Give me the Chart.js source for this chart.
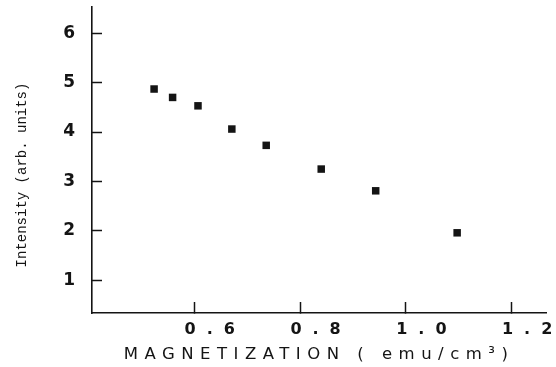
<!DOCTYPE html>
<html>
<head>
<meta charset="utf-8">
<script src="https://cdn.jsdelivr.net/npm/chart.js@4/dist/chart.umd.min.js"></script>
<style>html,body{margin:0;padding:0;background:#fff;}canvas{display:block;}</style>
</head>
<body>
<canvas id="c" width="556" height="367"></canvas>
<script>
// ---- data ----
const magnetization = [0.524, 0.559, 0.607, 0.671, 0.736, 0.840, 0.943, 1.097];
const intensity     = [4.87, 4.70, 4.53, 4.06, 3.73, 3.25, 2.81, 1.96];
const xTickValues   = [0.6, 0.8, 1.0, 1.2];
const yTickValues   = [1, 2, 3, 4, 5, 6];
const xAxisTitle    = 'MAGNETIZATION ( emu/cm³)';
const yAxisTitle    = 'Intensity (arb. units)';

const points = magnetization.map((m, i) => ({x: m, y: intensity[i]}));

function wrapDraw(scale, method, spacing, dy) {
  const key = '_wrapped_' + method;
  if (scale[key]) return;
  const orig = scale[method];
  scale[method] = function (...args) {
    const ctx = this.ctx;
    ctx.save();
    ctx.letterSpacing = spacing;
    if (dy) ctx.translate(0, dy);
    orig.apply(this, args);
    ctx.restore();
  };
  scale[key] = true;
}

const spacingPlugin = {
  id: 'spacing',
  beforeDraw(chart) {
    const s = chart.scales;
    wrapDraw(s.x, 'drawLabels', '11px');
    wrapDraw(s.x, 'drawTitle', '6.5px');
    wrapDraw(s.y, 'drawLabels', '0px');
    wrapDraw(s.y, 'drawTitle', '0px', 15);
  }
};

const ink = '#141414';

new Chart(document.getElementById('c'), {
  type: 'scatter',
  data: {
    datasets: [{
      data: points,
      pointStyle: 'rect',
      pointRadius: 5.3,
      pointHoverRadius: 5.3,
      backgroundColor: ink,
      borderColor: ink,
      borderWidth: 0,
      showLine: false
    }]
  },
  options: {
    responsive: false,
    animation: false,
    events: [],
    layout: {padding: {top: 7, right: 10, left: 0, bottom: 0}},
    plugins: {legend: {display: false}, tooltip: {enabled: false}},
    scales: {
      x: {
        type: 'linear',
        min: 0.4066,
        max: 1.265,
        afterBuildTicks(scale) { scale.ticks = xTickValues.map(v => ({value: v})); },
        afterFit(scale) { scale.height = 54; scale.paddingLeft = 0; scale.paddingRight = 0; },
        grid: {drawOnChartArea: false, drawTicks: true, tickLength: -11, tickWidth: 1.5, tickColor: ink},
        border: {display: true, color: ink, width: 1.6},
        ticks: {
          autoSkip: false,
          maxRotation: 0,
          padding: 18,
          labelOffset: 21,
          color: ink,
          font: {family: 'DejaVu Sans', size: 16, weight: 'bold'},
          callback: v => Number(v).toFixed(1)
        },
        title: {
          display: true,
          text: xAxisTitle,
          color: ink,
          font: {family: 'DejaVu Sans', size: 16.5, weight: 'normal', lineHeight: 1},
          padding: {top: 0, bottom: 4.5}
        }
      },
      y: {
        type: 'linear',
        min: 0.337,
        max: 6.53,
        afterBuildTicks(scale) { scale.ticks = yTickValues.map(v => ({value: v})); },
        afterFit(scale) { scale.width = 92; scale.paddingTop = 0; scale.paddingBottom = 0; },
        grid: {drawOnChartArea: false, drawTicks: true, tickLength: -10, tickWidth: 1.5, tickColor: ink},
        border: {display: true, color: ink, width: 1.6},
        ticks: {
          autoSkip: false,
          padding: 27,
          color: ink,
          font: {family: 'DejaVu Sans', size: 17, weight: 'bold'},
          callback: v => String(v)
        },
        title: {
          display: true,
          text: yAxisTitle,
          color: ink,
          font: {family: 'Liberation Mono', size: 14, weight: 'normal', lineHeight: 1},
          padding: {top: 15, bottom: 0}
        }
      }
    }
  },
  plugins: [spacingPlugin]
});
</script>
</body>
</html>
